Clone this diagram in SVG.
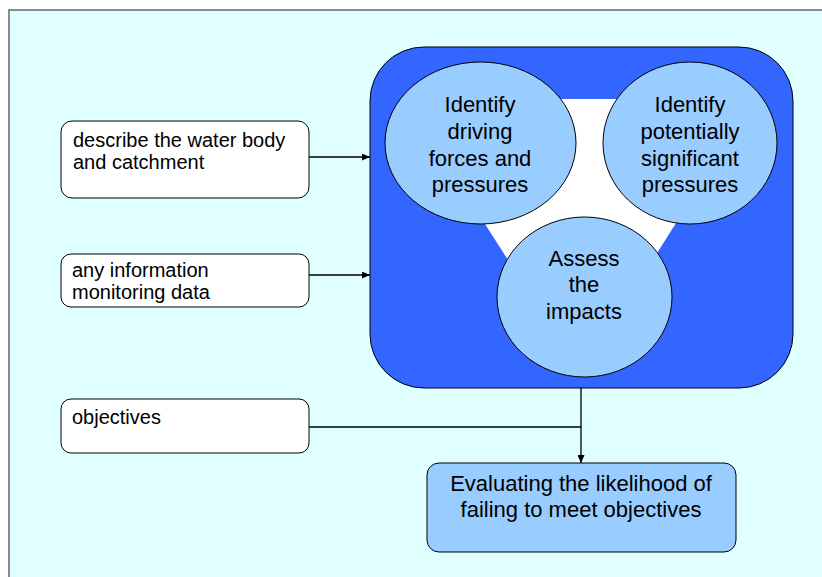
<svg xmlns="http://www.w3.org/2000/svg" width="822" height="577" viewBox="0 0 822 577">
<style>
.t{font-family:"Liberation Sans",Arial,sans-serif;fill:#000}
.big{font-size:22px;text-anchor:middle}
.sm{font-size:20px}
.box{fill:#fff;stroke:#000;stroke-width:1}
.ell{fill:#99CCFF;stroke:#000;stroke-width:1}
.con{stroke:#000;stroke-width:1.3;fill:none}
</style>
<defs>
<marker id="ah" markerWidth="8" markerHeight="7" refX="8" refY="3.5" orient="auto" markerUnits="userSpaceOnUse">
<path d="M0,0 L8,3.5 L0,7 Z" fill="#000"/>
</marker>
</defs>
<rect x="0" y="0" width="822" height="577" fill="#fff"/>
<rect x="9" y="10" width="820" height="575" fill="#E0FFFF" stroke="#666" stroke-width="1.5"/>
<g id="process">
<rect x="370" y="47" width="423" height="341" rx="54" ry="54" fill="#3366FF" stroke="#000" stroke-width="1"/>
<polygon points="405,99 754,99 581,374" fill="#fff"/>
</g>
<g id="driving">
<ellipse class="ell" cx="480.5" cy="143" rx="95.5" ry="81"/>
<text class="t big" x="480" y="112">Identify</text>
<text class="t big" x="480" y="139">driving</text>
<text class="t big" x="480" y="166">forces and</text>
<text class="t big" x="480" y="192">pressures</text>
</g>
<g id="significant">
<ellipse class="ell" cx="690" cy="143" rx="87" ry="81"/>
<text class="t big" x="690" y="112">Identify</text>
<text class="t big" x="690" y="139">potentially</text>
<text class="t big" x="690" y="166">significant</text>
<text class="t big" x="690" y="192">pressures</text>
</g>
<g id="impacts">
<ellipse class="ell" cx="584.5" cy="297" rx="87.5" ry="80"/>
<text class="t big" x="584" y="266">Assess</text>
<text class="t big" x="584" y="292">the</text>
<text class="t big" x="584" y="319">impacts</text>
</g>
<g id="describe">
<rect class="box" x="61" y="121" width="248" height="77" rx="11"/>
<text class="t sm" x="73" y="147">describe the water body</text>
<text class="t sm" x="73" y="169">and catchment</text>
</g>
<g id="information">
<rect class="box" x="61" y="254" width="248" height="53" rx="10"/>
<text class="t sm" x="72" y="277">any information</text>
<text class="t sm" x="72" y="299">monitoring data</text>
</g>
<g id="objectives">
<rect class="box" x="61" y="399" width="248" height="54" rx="10"/>
<text class="t sm" x="72" y="424">objectives</text>
</g>
<g id="evaluate">
<rect x="427" y="463" width="309" height="89" rx="12" fill="#99CCFF" stroke="#000" stroke-width="1"/>
<text class="t big" x="581" y="491">Evaluating the likelihood of</text>
<text class="t big" x="581" y="517">failing to meet objectives</text>
</g>
<g id="connectors">
<line class="con" x1="309" y1="157" x2="370" y2="157" marker-end="url(#ah)"/>
<line class="con" x1="309" y1="275" x2="370" y2="275" marker-end="url(#ah)"/>
<line class="con" x1="309" y1="427" x2="581" y2="427"/>
<line class="con" x1="581" y1="388" x2="581" y2="463" marker-end="url(#ah)"/>
</g>
</svg>
